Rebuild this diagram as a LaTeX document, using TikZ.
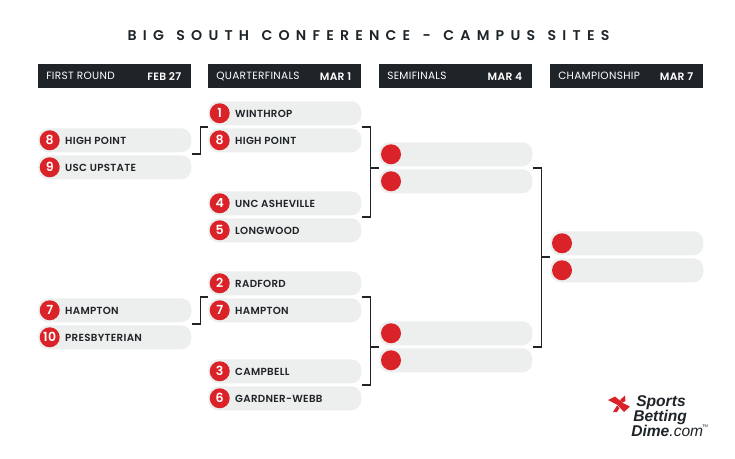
\documentclass[tikz,border=0pt]{standalone}
\usepackage{fontspec}
\setmainfont[LetterSpace=3,BoldFont={Poppins SemiBold}]{Poppins}
\usetikzlibrary{calc}
\newfontfamily\titlefont[LetterSpace=44,WordSpace=1.3,BoldFont={Poppins SemiBold}]{Poppins}
\newfontfamily\logofont{Liberation Sans}
\definecolor{ink}{HTML}{1F2428}
\definecolor{slotgrey}{HTML}{EDEEEE}
\definecolor{seedred}{HTML}{DA2328}
\tikzset{
 x=0.75pt,y=-0.75pt,
 slotbox/.style={draw=none,fill=slotgrey,rounded corners=7.5pt,minimum width=114.75pt,minimum height=18pt,inner sep=0pt,anchor=north west},
 seed/.style={circle,fill=seedred,text=white,minimum size=15pt,inner sep=0pt,font=\bfseries\fontsize{9.4}{10}\selectfont},
 team/.style={anchor=west,inner sep=0pt,text=ink,font=\bfseries\fontsize{7.7}{8}\selectfont},
 headbar/.style={fill=ink,minimum width=114.75pt,minimum height=18pt,inner sep=0pt,anchor=north west},
 headl/.style={anchor=west,inner sep=0pt,text=white,font=\fontsize{7.9}{8}\selectfont},
 headr/.style={anchor=east,inner sep=0pt,text=white,font=\bfseries\fontsize{8}{8}\selectfont},
 bracket/.style={draw=ink,line width=1.3pt},
}
\newcommand{\slotrow}[5]{% name,x,y,num,label
 \node[slotbox] (#1) at (#2,#3) {};
 \node[seed] (#1s) at ($(#1.west)+(8.8pt,0)$) {#4};
 \node[team] (#1t) at ($(#1.west)+(20.2pt,-0.4pt)$) {#5};
}
\newcommand{\emptyrow}[3]{%
 \node[slotbox] (#1) at (#2,#3) {};
 \node[seed] (#1s) at ($(#1.west)+(9pt,0)$) {};
}
\newcommand{\headrow}[5]{%
 \node[headbar] (#1) at (#2,64) {};
 \node[headl] (#1l) at ($(#1.west)+(6pt,0)$) {#3};
 \node[headr] (#1r) at ($(#1.east)+(-#5,0)$) {#4};
}
\begin{document}
\begin{tikzpicture}
\useasboundingbox (0,0) rectangle (735,458);
\node[inner sep=0pt,text=ink,font=\titlefont\bfseries\fontsize{10.6}{12}\selectfont] (title) at (368.5,35.5) {BIG SOUTH CONFERENCE - CAMPUS SITES};
\headrow{h1}{38}{FIRST ROUND}{FEB 27}{7.5pt}
\headrow{h2}{208}{QUARTERFINALS}{MAR 1}{7.5pt}
\headrow{h3}{379}{SEMIFINALS}{MAR 4}{7.5pt}
\headrow{h4}{550}{CHAMPIONSHIP}{MAR 7}{7.5pt}
\slotrow{a1}{38}{128}{8}{HIGH POINT}
\slotrow{a2}{38}{155}{9}{USC UPSTATE}
\slotrow{a3}{38}{298}{7}{HAMPTON}
\slotrow{a4}{38}{325}{10}{PRESBYTERIAN}
\slotrow{b1}{208}{101}{1}{WINTHROP}
\slotrow{b2}{208}{128}{8}{HIGH POINT}
\slotrow{b3}{208}{191}{4}{UNC ASHEVILLE}
\slotrow{b4}{208}{218}{5}{LONGWOOD}
\slotrow{b5}{208}{271}{2}{RADFORD}
\slotrow{b6}{208}{298}{7}{HAMPTON}
\slotrow{b7}{208}{359}{3}{CAMPBELL}
\slotrow{b8}{208}{386}{6}{GARDNER-WEBB}
\emptyrow{c1}{379}{142}
\emptyrow{c2}{379}{169}
\emptyrow{c3}{379}{321}
\emptyrow{c4}{379}{348}
\emptyrow{d1}{550}{231}
\emptyrow{d2}{550}{258}
% junction points between paired slots
\foreach \p/\q/\j in {a1/a2/ja,a3/a4/jb,b1/b2/jc,b3/b4/jd,b5/b6/je,b7/b8/jf,c1/c2/jg,c3/c4/jh,d1/d2/ji}{
 \coordinate (\j) at ($(\p.south east)!.5!(\q.north east)$);
 \coordinate (\j w) at ($(\p.south west)!.5!(\q.north west)$);
}
\draw[bracket] (ja) -- ++(9,0) |- (jcw);
\draw[bracket] (jb) -- ++(9,0) |- (jew);
\draw[bracket] (jc) -- ++(9,0) coordinate (t1) -- (t1 |- jd) -- (jd);
\draw[bracket] ($(t1)!(jgw)!(t1 |- jd)$) -- (jgw);
\draw[bracket] (je) -- ++(9,0) coordinate (t2) -- (t2 |- jf) -- (jf);
\draw[bracket] ($(t2)!(jhw)!(t2 |- jf)$) -- (jhw);
\draw[bracket] (jg) -- ++(9,0) coordinate (t3) -- (t3 |- jh) -- (jh);
\draw[bracket] ($(t3)!(jiw)!(t3 |- jh)$) -- (jiw);
% logo
\fill[seedred] (608,400) -- (615,396.5) -- (623,403) -- (630,406.5) -- (624,412) -- (617.5,405) -- cycle;
\fill[seedred] (613,412) -- (617,405.5) -- (619.5,408) -- (617,412) -- cycle;
\fill[seedred] (620,400) -- (625,395.5) -- (625.5,401) -- (622.5,402.5) -- cycle;
\node[anchor=west,inner sep=0pt,text=ink,font=\logofont\bfseries\itshape\fontsize{11.7}{12}\selectfont] (l1) at (636,402.5) {Sports};
\node[anchor=west,inner sep=0pt,text=ink,font=\logofont\bfseries\itshape\fontsize{11.7}{12}\selectfont] (l2) at (633,417) {Betting};
\node[anchor=west,inner sep=0pt,text=ink,font=\logofont\bfseries\itshape\fontsize{11.7}{12}\selectfont] (l3) at (631,431) {Dime\logofont\itshape\mdseries.com};
\node[anchor=west,inner sep=0pt,text=ink,font=\logofont\fontsize{3}{3}\selectfont] (l4) at (702,426) {TM};
\end{tikzpicture}
\end{document}
